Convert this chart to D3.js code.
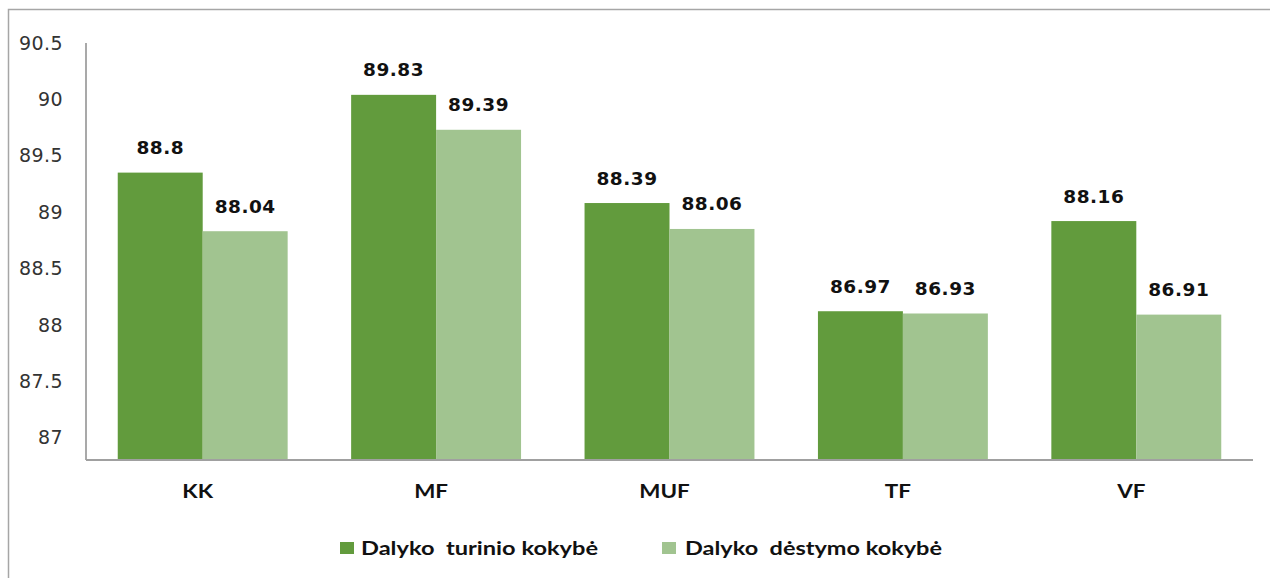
<!DOCTYPE html>
<html>
<head>
<meta charset="utf-8">
<script src="https://cdn.jsdelivr.net/npm/d3@7"></script>
<style>
  html, body { margin: 0; padding: 0; background: #ffffff; }
  svg { display: block; }
  .legend-text { white-space: pre; }
</style>
</head>
<body>
<svg id="chart" width="1270" height="578"></svg>
<script>
// ---- data ----
const categories = ["KK", "MF", "MUF", "TF", "VF"];
const seriesNames = ["Dalyko  turinio kokybė", "Dalyko  dėstymo kokybė"];
// bar heights as drawn against the axis
const turinioValues = [89.35, 90.04, 89.08, 88.12, 88.92];
const destymoValues = [88.83, 89.73, 88.85, 88.10, 88.09];
// data labels printed above the bars
const turinioLabels = ["88.8", "89.83", "88.39", "86.97", "88.16"];
const destymoLabels = ["88.04", "89.39", "88.06", "86.93", "86.91"];
const yTicks = [87, 87.5, 88, 88.5, 89, 89.5, 90, 90.5];
const yDomain = [86.8, 90.5];

// ---- layout ----
const colors = ["#629b3d", "#a1c490"];
const svg = d3.select("#chart");
const plot = { left: 86, right: 1253, top: 43, bottom: 460 };

// outer frame
svg.append("rect")
  .attr("x", 8.5).attr("y", 9.5)
  .attr("width", 1300).attr("height", 600)
  .attr("fill", "#ffffff")
  .attr("stroke", "#a6a6a6").attr("stroke-width", 1.5);

const x0 = d3.scaleBand().domain(categories).range([plot.left, plot.right]).padding(0);
const groupW = x0.bandwidth() * 0.728;
const x1 = d3.scaleBand().domain([0, 1]).range([0, groupW]).padding(0);
const y = d3.scaleLinear().domain(yDomain).range([plot.bottom, plot.top]);

// y axis labels
const yAxis = d3.axisLeft(y).tickValues(yTicks).tickSize(0).tickPadding(23)
  .tickFormat(d => String(d));
const yg = svg.append("g").attr("transform", `translate(${plot.left},0)`).call(yAxis);
yg.select(".domain").remove();
yg.selectAll("text")
  .attr("font-family", "DejaVu Sans")
  .attr("font-size", 19)
  .attr("letter-spacing", 0.4)
  .attr("fill", "#333333")
  .attr("dy", "0.33em");

// bars
const series = [turinioValues, destymoValues];
const labels = [turinioLabels, destymoLabels];
categories.forEach((c, i) => {
  const gx = x0(c) + (x0.bandwidth() - groupW) / 2;
  [0, 1].forEach(s => {
    const v = series[s][i];
    const bx = gx + x1(s);
    svg.append("rect")
      .attr("x", bx).attr("y", y(v))
      .attr("width", x1.bandwidth())
      .attr("height", y(yDomain[0]) - y(v))
      .attr("fill", colors[s]);
    svg.append("text")
      .attr("x", bx + x1.bandwidth() / 2)
      .attr("y", y(v) - 18.5)
      .attr("text-anchor", "middle")
      .attr("font-family", "DejaVu Sans")
      .attr("font-weight", "bold")
      .attr("font-size", 18.5)
      .attr("letter-spacing", 0.5)
      .attr("fill", "#111111")
      .text(labels[s][i]);
  });
});

// axis lines
svg.append("line")
  .attr("x1", plot.left).attr("x2", plot.left)
  .attr("y1", plot.top).attr("y2", plot.bottom)
  .attr("stroke", "#a0a0a0").attr("stroke-width", 1.8);
svg.append("line")
  .attr("x1", plot.left).attr("x2", plot.right)
  .attr("y1", plot.bottom).attr("y2", plot.bottom)
  .attr("stroke", "#a0a0a0").attr("stroke-width", 1.8);

// category labels
categories.forEach(c => {
  svg.append("g")
    .attr("transform", `translate(${x0(c) + x0.bandwidth() / 2 - 5},498) scale(1.15,1)`)
    .append("text")
    .attr("text-anchor", "middle")
    .attr("font-family", "Lato")
    .attr("font-weight", "bold")
    .attr("font-size", 19.5)
    .attr("fill", "#111111")
    .text(c);
});

// legend
const legendItems = [
  { sx: 340, tx: 361, w: 237 },
  { sx: 662, tx: 685, w: 257 }
];
legendItems.forEach((it, s) => {
  svg.append("rect")
    .attr("x", it.sx).attr("y", 542)
    .attr("width", 14).attr("height", 12)
    .attr("fill", colors[s]);
  svg.append("text")
    .attr("class", "legend-text")
    .attr("x", it.tx).attr("y", 555)
    .attr("font-family", "Lato")
    .attr("font-weight", "bold")
    .attr("font-size", 19.5)
    .attr("fill", "#111111")
    .attr("textLength", it.w)
    .attr("lengthAdjust", "spacingAndGlyphs")
    .text(seriesNames[s]);
});
</script>
</body>
</html>
